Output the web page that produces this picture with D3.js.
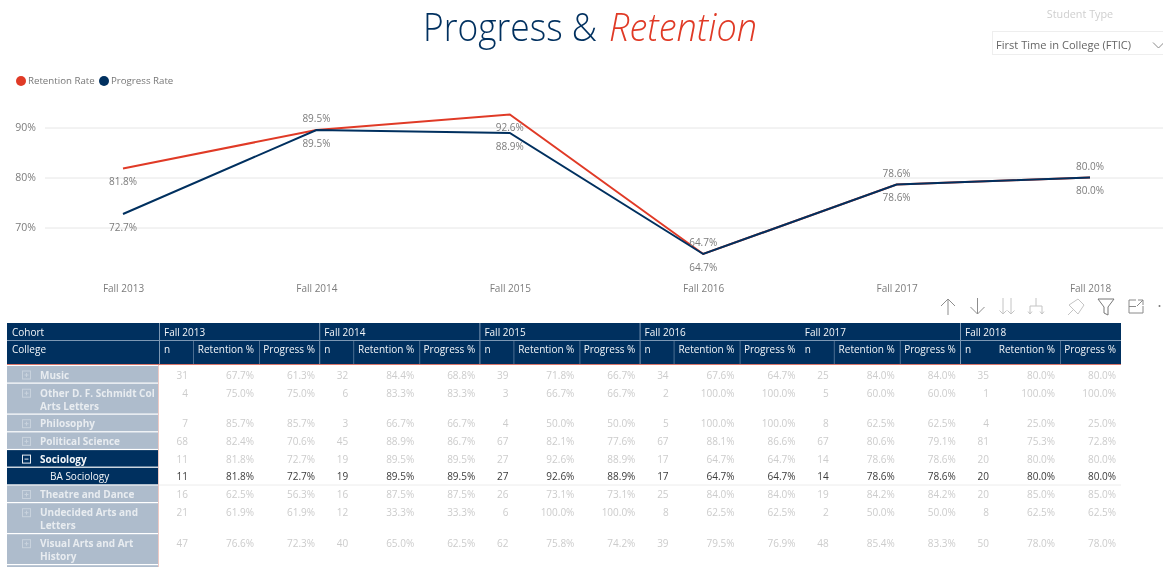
<!DOCTYPE html>
<html><head><meta charset="utf-8">
<script src="https://cdn.jsdelivr.net/npm/d3@7"></script>
<style>html,body{margin:0;padding:0;background:#fff;overflow:hidden}svg{display:block;filter:blur(0.35px)}text{font-family:"Open Sans","Noto Sans",sans-serif}</style>
</head><body><svg id="c" width="1163" height="567"></svg>
<script>
const cohorts=["Fall 2013","Fall 2014","Fall 2015","Fall 2016","Fall 2017","Fall 2018"];
const retentionRate=[81.8,89.5,92.6,64.7,78.6,80.0];
const progressRate=[72.7,89.5,88.9,64.7,78.6,80.0];
const retentionLabelSide=["below","above","below","above","above","above"];
const progressLabelSide=["below","below","below","below","below","below"];
const yTicks=[70,80,90];
const colleges=[["Music"],["Other D. F. Schmidt Col","Arts Letters"],["Philosophy"],["Political Science"],["Sociology"],["BA Sociology"],["Theatre and Dance"],["Undecided Arts and","Letters"],["Visual Arts and Art","History"]];
const rowKinds=["collapsed","collapsed","collapsed","collapsed","expanded","child","collapsed","collapsed","collapsed"];
const nTable=[[31,32,39,34,25,35],[4,6,3,2,5,1],[7,3,4,5,8,4],[68,45,67,67,67,81],[11,19,27,17,14,20],[11,19,27,17,14,20],[16,16,26,25,19,20],[21,12,6,8,2,8],[47,40,62,39,48,50]];
const retentionTable=[[67.7,84.4,71.8,67.6,84.0,80.0],[75.0,83.3,66.7,100.0,60.0,100.0],[85.7,66.7,50.0,100.0,62.5,25.0],[82.4,88.9,82.1,88.1,80.6,75.3],[81.8,89.5,92.6,64.7,78.6,80.0],[81.8,89.5,92.6,64.7,78.6,80.0],[62.5,87.5,73.1,84.0,84.2,85.0],[61.9,33.3,100.0,62.5,50.0,62.5],[76.6,65.0,75.8,79.5,85.4,78.0]];
const progressTable=[[61.3,68.8,66.7,64.7,84.0,80.0],[75.0,83.3,66.7,100.0,60.0,100.0],[85.7,66.7,50.0,100.0,62.5,25.0],[70.6,86.7,77.6,86.6,79.1,72.8],[72.7,89.5,88.9,64.7,78.6,80.0],[72.7,89.5,88.9,64.7,78.6,80.0],[56.3,87.5,73.1,84.0,84.2,85.0],[61.9,33.3,100.0,62.5,50.0,62.5],[72.3,62.5,74.2,76.9,83.3,78.0]];

const RED="#e03a26",NAVY="#00305f",GREY="#7c7c7c";
const svg=d3.select("#c");
const pct1=v=>v.toFixed(1)+"%";
function txt(g,x,y,s,o={}){return g.append("text").attr("x",x).attr("y",y).attr("dy","0.35em").attr("text-anchor",o.a||"start").attr("font-size",o.s||10.5).attr("font-weight",o.w||400).attr("fill",o.f||GREY).text(s);}

// title
svg.append("text").attr("x",423).attr("y",41).attr("font-size",38).attr("font-weight",300).attr("fill",NAVY).attr("textLength",174).attr("lengthAdjust","spacingAndGlyphs").text("Progress &");
svg.append("text").attr("x",609).attr("y",41).attr("font-size",38).attr("font-weight",300).attr("font-style","italic").attr("fill",RED).attr("textLength",148).attr("lengthAdjust","spacingAndGlyphs").text("Retention");

// slicer
txt(svg,1080,14.5,"Student Type",{a:"middle",s:10.8,f:"#cfcfcf"});
svg.append("rect").attr("x",992.5).attr("y",31.5).attr("width",180).attr("height",23).attr("fill","#fff").attr("stroke","#eeeeee");
txt(svg,996,45,"First Time in College (FTIC)",{s:11.1,f:"#666"});
svg.append("path").attr("d","M1153 42.5l5.5 5.5l5.5-5.5").attr("fill","none").attr("stroke","#8a8a8a");

// legend
svg.append("circle").attr("cx",21).attr("cy",81).attr("r",5).attr("fill",RED);
txt(svg,28,81,"Retention Rate",{s:9.7,f:"#777"});
svg.append("circle").attr("cx",104).attr("cy",81).attr("r",5).attr("fill",NAVY);
txt(svg,111,81,"Progress Rate",{s:9.7,f:"#777"});

// line chart
const x=d3.scalePoint().domain(cohorts).range([123,1090]);
const y=d3.scaleLinear().domain([70,90]).range([227.5,127.5]);
const gy=svg.append("g").attr("transform","translate(45,0)").call(d3.axisLeft(y).tickValues(yTicks).tickFormat(d=>d+"%").tickSize(-1118).tickPadding(9));
gy.select(".domain").remove();
gy.selectAll("line").attr("stroke","#e6e6e6");
gy.selectAll("text").attr("font-size",10.5).attr("fill",GREY);
const gx=svg.append("g").attr("transform","translate(0,279)").call(d3.axisBottom(x).tickSize(0).tickPadding(6));
gx.select(".domain").remove();
gx.selectAll("text").attr("font-size",10).attr("fill",GREY);
const line=d3.line().x((d,i)=>x(cohorts[i])).y(d=>y(d));
svg.append("path").attr("d",line(retentionRate)).attr("fill","none").attr("stroke",RED).attr("stroke-width",2);
svg.append("path").attr("d",line(progressRate)).attr("fill","none").attr("stroke",NAVY).attr("stroke-width",2);
function labels(vals,sides){vals.forEach((v,i)=>{txt(svg,x(cohorts[i]),y(v)+(sides[i]==="above"?-11.5:13),pct1(v),{a:"middle",s:10,f:GREY});});}
labels(retentionRate,retentionLabelSide);
labels(progressRate,progressLabelSide);

// toolbar icons
const ic=svg.append("g").attr("fill","none").attr("stroke","#8d8d8d").attr("stroke-width",1);
ic.append("path").attr("d","M948 315V299M941 306l7-7l7 7");
ic.append("path").attr("d","M977.5 298V314M970.500 307l7 7l7-7");
ic.append("path").attr("stroke","#c4c4c4").attr("d","M1003 298V314M999.500 310.500l3.500 3.500l3.500-3.500M1011 298V314M1007.500 310.500l3.500 3.500l3.500-3.500");
ic.append("path").attr("stroke","#c4c4c4").attr("d","M1036 298V306M1030 314V306H1042V314M1028 311.500l2 2.500l2-2.500M1040 311.500l2 2.500l2-2.500");
ic.append("path").attr("stroke","#c4c4c4").attr("d","M1068 315l6-6M1072 303l6-4l6 6l-4 6l-2 3l-9-9z");
ic.append("path").attr("stroke","#777").attr("d","M1098 299H1114L1108 307V315L1104 313V307Z");
ic.append("path").attr("stroke","#8a8a8a").attr("d","M1136 300H1129V313H1143V306M1136 306.500H1129M1138 300H1143V305M1143 300L1137 306");
svg.append("circle").attr("cx",1159.500).attr("cy",306).attr("r",1).attr("fill","#777");

// table
const tbl=svg.append("g");
const colX=d3.scalePoint().domain(cohorts).range([159,960]);
const subEdges=[34,100];
const subRight=[29,95,156];
const HL="#7d98b4";
tbl.append("rect").attr("x",7).attr("y",323).attr("width",1114).attr("height",41).attr("fill",NAVY);
tbl.append("line").attr("x1",7).attr("x2",1121).attr("y1",340.5).attr("y2",340.5).attr("stroke",HL);
tbl.append("line").attr("x1",7).attr("x2",1121).attr("y1",364.5).attr("y2",364.5).attr("stroke","#d9776b");
txt(tbl,12,332,"Cohort",{f:"#f2f5f8",s:10});
txt(tbl,12,349.500,"College",{f:"#f2f5f8",s:10});
cohorts.forEach(c=>{
  const x0=colX(c);
  if(c!=="Fall 2017")tbl.append("line").attr("x1",x0+.5).attr("x2",x0+.5).attr("y1",323).attr("y2",364).attr("stroke",HL);
  txt(tbl,x0+5,332,c,{f:"#f2f5f8",s:10});
  subEdges.forEach((e,k)=>{ if(!(c==="Fall 2018"&&k===0)) tbl.append("line").attr("x1",x0+e+.5).attr("x2",x0+e+.5).attr("y1",341).attr("y2",364).attr("stroke",HL).attr("opacity",.6);});
  txt(tbl,x0+5,349.500,"n",{f:"#f2f5f8",s:10});
  txt(tbl,x0+subRight[1],349.500,"Retention %",{a:"end",f:"#f2f5f8",s:10});
  txt(tbl,x0+subRight[2],349.500,"Progress %",{a:"end",f:"#f2f5f8",s:10});
});
let rowTop=366;
colleges.forEach((lines,r)=>{
  const h=lines.length>1?31:17.7, kind=rowKinds[r];
  const dark=kind!=="collapsed";
  tbl.append("rect").attr("x",7).attr("y",rowTop).attr("width",151).attr("height",h-1.2).attr("fill",dark?NAVY:"#aebccc");
  const cy=rowTop+(lines.length>1?9.5:9);
  if(kind!=="child"){
    tbl.append("rect").attr("x",22.5).attr("y",cy-4).attr("width",8).attr("height",8).attr("fill","none").attr("stroke",dark?"#e8edf2":"#c8d2dd");
    tbl.append("path").attr("d",kind==="expanded"?`M24.5 ${cy}H28.500`:`M24.5 ${cy}H28.500M26.500 ${cy-2}V${cy+2}`).attr("stroke",dark?"#e8edf2":"#c8d2dd");
  }
  lines.forEach((l,i)=>txt(tbl,kind==="child"?50:40,cy+i*13,l,{f:dark?"#f5f7f9":"#e8ecf0",w:kind==="child"?400:700,s:10}));
  const f=kind==="child"?"#3c3c3c":"#cccccc";
  cohorts.forEach((c,j)=>{
    const x0=colX(c);
    txt(tbl,x0+subRight[0],cy,nTable[r][j],{a:"end",f,s:10});
    txt(tbl,x0+subRight[1],cy,pct1(retentionTable[r][j]),{a:"end",f,s:10});
    txt(tbl,x0+subRight[2],cy,pct1(progressTable[r][j]),{a:"end",f,s:10});
  });
  if(kind==="child")tbl.append("line").attr("x1",158).attr("x2",1121).attr("y1",rowTop+h-.5).attr("y2",rowTop+h-.5).attr("stroke","#ececec");
  rowTop+=h;
});
tbl.append("rect").attr("x",7).attr("y",rowTop).attr("width",151).attr("height",3).attr("fill","#aebccc");
tbl.append("line").attr("x1",158.5).attr("x2",158.5).attr("y1",365).attr("y2",567).attr("stroke","#eec9c4");
</script></body></html>
